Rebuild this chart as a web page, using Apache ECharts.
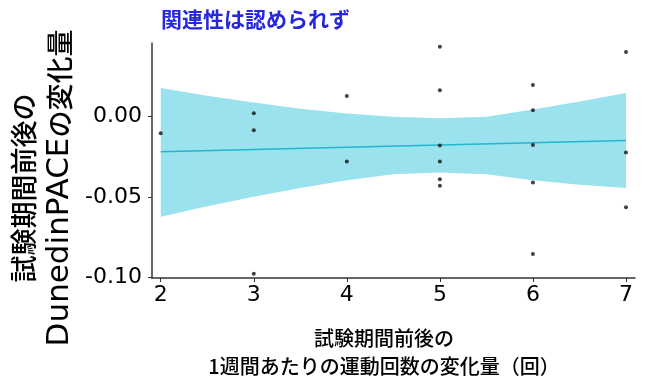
<!DOCTYPE html>
<html><head><meta charset="utf-8">
<script src="https://cdn.jsdelivr.net/npm/echarts@6/dist/echarts.min.js"></script>
<style>html,body{margin:0;padding:0;background:#fff}#c{width:657px;height:386px}</style>
</head><body><div id="c"></div>
<script>
const titleText = '関連性は認められず';
const xTitle = '試験期間前後の\n1週間あたりの運動回数の変化量（回）';
const yTitleLine1 = '試験期間前後の';
const yTitleLatin = 'DunedinPACE';
const yTitleTail = 'の変化量';
const xTicks = [2, 3, 4, 5, 6, 7];
const yTicks = [-0.10, -0.05, 0.00];
// scatter points
const pointX = [2, 3, 3, 3, 4, 4, 5, 5, 5, 5, 5, 5, 6, 6, 6, 6, 6, 7, 7, 7];
const pointY = [-0.0107, 0.0017, -0.0088, -0.0975, 0.0123, -0.0282,
  0.0428, 0.0159, -0.0183, -0.0282, -0.0391, -0.0432,
  0.0191, 0.0035, -0.0179, -0.0411, -0.0854,
  0.0395, -0.0226, -0.0564];
// fitted line
const fitX = [2, 7];
const fitY = [-0.0222, -0.0152];
// confidence band
const bandX = [2, 2.5, 3, 3.5, 4, 4.5, 5, 5.5, 6, 6.5, 7];
const bandUpper = [0.0173, 0.0125, 0.0083, 0.0045, 0.0015, -0.0005, -0.0014, -0.0005, 0.0040, 0.0090, 0.0142];
const bandLower = [-0.0623, -0.0558, -0.0500, -0.0445, -0.0397, -0.0360, -0.0350, -0.0360, -0.0397, -0.0425, -0.0446];

const chart = echarts.init(document.getElementById('c'), null, {renderer: 'canvas'});
const font = '"Noto Sans CJK JP", "Noto Sans", sans-serif';
const latinFont = '"DejaVu Sans", "Noto Sans CJK JP", sans-serif';
const bandData = bandX.map((x, i) => [x, bandUpper[i], bandLower[i]]);
chart.setOption({
  animation: false,
  backgroundColor: '#fff',
  textStyle: {fontFamily: font},
  title: {text: titleText, left: 156, top: 4,
    textStyle: {fontFamily: font, fontSize: 21, fontWeight: 'bold', color: '#2626dc'}},
  grid: {left: 152, right: 22, top: 43, bottom: 108, containLabel: false},
  xAxis: {type: 'value', min: 1.906, max: 7.097,
    axisLine: {onZero: false, lineStyle: {color: '#333', width: 1.5}},
    axisTick: {show: true, length: 4, lineStyle: {color: '#333'}, customValues: xTicks},
    axisLabel: {customValues: xTicks, fontSize: 22, color: '#000', margin: 6, fontFamily: latinFont},
    splitLine: {show: false}},
  yAxis: {type: 'value', min: -0.1002, max: 0.0451,
    axisLine: {show: true, onZero: false, lineStyle: {color: '#333', width: 1.5}},
    axisTick: {show: true, length: 4, lineStyle: {color: '#333'}, customValues: yTicks},
    axisLabel: {customValues: yTicks, fontSize: 22, color: '#000', margin: 10, fontFamily: latinFont,
      formatter: v => v.toFixed(2)},
    splitLine: {show: false}},
  graphic: [
    {type: 'text', x: 42, y: 188, rotation: Math.PI / 2,
      style: {text: '{c|' + yTitleLine1 + '}\n{l|' + yTitleLatin + '}{c|' + yTitleTail + '}',
        align: 'center', verticalAlign: 'middle', fill: '#000',
        rich: {
          c: {fontSize: 27, lineHeight: 36, fontFamily: font, fontWeight: 500, fill: '#000'},
          l: {fontSize: 31, lineHeight: 36, fontFamily: latinFont, fill: '#000'}
        }}},
    {type: 'text', x: 384, y: 352,
      style: {text: xTitle, fontSize: 20, lineHeight: 28, fontFamily: font, fontWeight: 500, fill: '#000',
        align: 'center', verticalAlign: 'middle'}}
  ],
  series: [
    {type: 'custom', data: bandData, z: 1,
      renderItem: (params, api) => {
        if (params.dataIndex !== 0) return;
        const up = bandData.map(d => api.coord([d[0], d[1]]));
        const lo = bandData.slice().reverse().map(d => api.coord([d[0], d[2]]));
        return {type: 'polygon', shape: {points: up.concat(lo)},
          style: {fill: '#9ae2ee'}};
      }},
    {type: 'line', data: fitX.map((x, i) => [x, fitY[i]]), symbol: 'none', z: 2,
      lineStyle: {color: '#22b5cf', width: 1.5}},
    {type: 'scatter', data: pointX.map((x, i) => [x, pointY[i]]), symbolSize: 4, z: 3,
      itemStyle: {color: '#111'}}
  ]
});
</script></body></html>
